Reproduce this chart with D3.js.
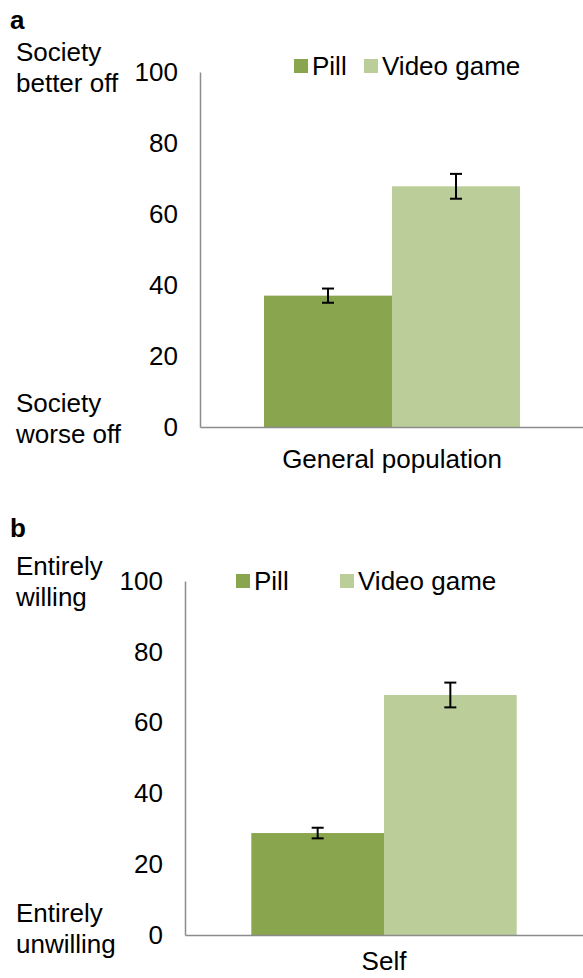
<!DOCTYPE html>
<html><head><meta charset="utf-8">
<script src="https://cdn.jsdelivr.net/npm/d3@7"></script>
<style>
html,body{margin:0;padding:0;background:#fff;}
svg text{font-family:"Liberation Sans",Arial,sans-serif;fill:#000;}
</style></head>
<body>
<svg id="chart" width="583" height="978"></svg>
<script>
const series = ["Pill", "Video game"];
const colors = ["#89a54e", "#bbcd98"];
const ticks = [0, 20, 40, 60, 80, 100];

const catA = ["General population"];
const valuesA = [37.0, 67.8];
const errorsA = [2.0, 3.5];
const topLabelA = ["Society", "better off"];
const bottomLabelA = ["Society", "worse off"];

const catB = ["Self"];
const valuesB = [28.8, 67.8];
const errorsB = [1.5, 3.5];
const topLabelB = ["Entirely", "willing"];
const bottomLabelB = ["Entirely", "unwilling"];

const svg = d3.select("#chart");
const FS = 26;

function panel(cfg) {
  const g = svg.append("g");
  const y = d3.scaleLinear().domain([0, 100]).range([cfg.y0, cfg.y100]);
  const x = d3.scaleBand().domain(cfg.cats).range([cfg.xl, cfg.xr]).paddingInner(0).paddingOuter(0.25);
  const xs = d3.scaleBand().domain(series).range([0, x.bandwidth()]);

  g.append("text").attr("x", 10).attr("y", cfg.letterY).attr("dominant-baseline", "central")
    .attr("font-size", FS).attr("font-weight", "bold").text(cfg.letter);

  const data = series.map((s, i) => ({s, v: cfg.values[i], e: cfg.errors[i], c: colors[i]}));
  g.selectAll("rect.bar").data(data).enter().append("rect")
    .attr("x", d => x(cfg.cats[0]) + xs(d.s))
    .attr("width", xs.bandwidth())
    .attr("y", d => y(d.v))
    .attr("height", d => y(0) - y(d.v))
    .attr("fill", d => d.c);

  const eg = g.selectAll("g.err").data(data).enter().append("g")
    .attr("stroke", "#000").attr("stroke-width", 2);
  const cx = d => x(cfg.cats[0]) + xs(d.s) + xs.bandwidth() / 2;
  eg.append("line").attr("x1", cx).attr("x2", cx).attr("y1", d => y(d.v + d.e)).attr("y2", d => y(d.v - d.e));
  eg.append("line").attr("x1", d => cx(d) - 6).attr("x2", d => cx(d) + 6).attr("y1", d => y(d.v + d.e)).attr("y2", d => y(d.v + d.e));
  eg.append("line").attr("x1", d => cx(d) - 6).attr("x2", d => cx(d) + 6).attr("y1", d => y(d.v - d.e)).attr("y2", d => y(d.v - d.e));

  const ya = g.append("g").attr("transform", `translate(${cfg.xl},0)`)
    .call(d3.axisLeft(y).tickValues(ticks).tickSize(0).tickPadding(cfg.tickPad));
  ya.select(".domain").attr("stroke", "#8c8c8c").attr("stroke-width", 1.5);
  ya.selectAll("text").attr("font-size", FS).attr("font-family", "Liberation Sans, Arial, sans-serif").attr("fill", "#000");

  const xa = g.append("g").attr("transform", `translate(0,${cfg.y0})`)
    .call(d3.axisBottom(x).tickSize(0).tickPadding(cfg.catPad));
  xa.select(".domain").attr("stroke", "#8c8c8c").attr("stroke-width", 1.5);
  xa.selectAll("text").attr("font-size", FS).attr("font-family", "Liberation Sans, Arial, sans-serif").attr("fill", "#000");

  [[cfg.top, cfg.y100 + cfg.topOff], [cfg.bottom, cfg.y0 + cfg.botOff]].forEach(([lines, yy]) => {
    g.append("text").attr("x", 16).attr("font-size", FS)
      .selectAll("tspan").data(lines).enter().append("tspan")
      .attr("x", 16).attr("y", (d, i) => yy + i * 31).attr("dominant-baseline", "central").text(d => d);
  });

  const lg = g.append("g");
  cfg.legendX.forEach((lx, i) => {
    lg.append("rect").attr("x", lx).attr("y", cfg.legendY - 7).attr("width", 14).attr("height", 14).attr("fill", colors[i]);
    lg.append("text").attr("x", lx + 18).attr("y", cfg.legendY).attr("dominant-baseline", "central")
      .attr("font-size", FS).text(series[i]);
  });
}

panel({letter: "a", letterY: 20, cats: catA, values: valuesA, errors: errorsA,
  xl: 200, xr: 584, y0: 427, y100: 72, tickPad: 22, catPad: 23,
  top: topLabelA, bottom: bottomLabelA, topOff: -20, botOff: -24,
  legendX: [294, 364], legendY: 66});

panel({letter: "b", letterY: 528, cats: catB, values: valuesB, errors: errorsB,
  xl: 185, xr: 583, y0: 935, y100: 581, tickPad: 22, catPad: 17,
  top: topLabelB, bottom: bottomLabelB, topOff: -15, botOff: -22,
  legendX: [236, 340], legendY: 581});
</script>
</body></html>
